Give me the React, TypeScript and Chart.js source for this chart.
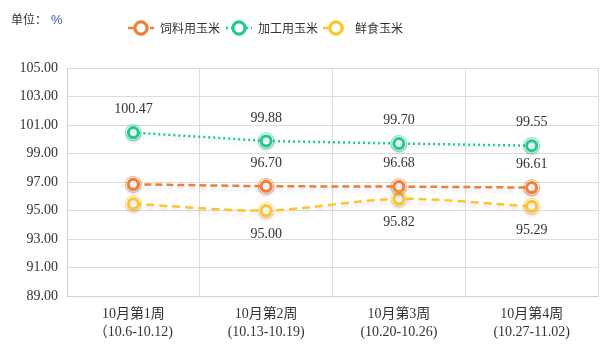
import React, { useEffect, useRef } from "react";
import { Chart, registerables } from "chart.js";

Chart.register(...registerables);

const categories: string[][] = [
  ["10月第1周", "（10.6-10.12)"],
  ["10月第2周", "(10.13-10.19)"],
  ["10月第3周", "(10.20-10.26)"],
  ["10月第4周", "(10.27-11.02)"],
];
const seriesNames = ["饲料用玉米", "加工用玉米", "鲜食玉米"];
const feedCorn = [96.84, 96.7, 96.68, 96.61];
const processingCorn = [100.47, 99.88, 99.7, 99.55];
const freshCorn = [95.47, 95.0, 95.82, 95.29];
const yMin = 89;
const yMax = 105;
const yStep = 2;
const unitLabel = "单位：";
const unitSymbol = "%";

const COLORS = ["#EE7F35", "#1FCB8C", "#FCC52C"];
const DASHES = [[7, 4], [2, 3], [8, 5]];
// which points show labels, and where (above / below)
const labelShow = [
  [false, true, true, true],
  [true, true, true, true],
  [false, true, true, true],
];
const labelAbove = [true, true, false];

const SERIF = "'Liberation Serif', 'Times New Roman', 'Noto Sans CJK SC', serif";
const SANS = "'Noto Sans CJK SC', 'Microsoft YaHei', sans-serif";

const overlayPlugin = {
  id: "overlay",
  beforeDatasetDraw(chart: any) {
    const ctx = chart.ctx;
    ctx.save();
    ctx.shadowColor = "rgba(60,80,160,0.18)";
    ctx.shadowBlur = 4;
    ctx.shadowOffsetY = 3;
  },
  afterDatasetDraw(chart: any) {
    chart.ctx.restore();
  },
  afterDatasetsDraw(chart: any) {
    const ctx = chart.ctx;
    ctx.save();
    chart.data.datasets.forEach((ds: any, i: number) => {
      const meta = chart.getDatasetMeta(i);
      meta.data.forEach((pt: any, j: number) => {
        // halo ring
        ctx.beginPath();
        ctx.arc(pt.x, pt.y, 8, 0, Math.PI * 2);
        ctx.strokeStyle = COLORS[i];
        ctx.globalAlpha = 0.55;
        ctx.lineWidth = 1.2;
        ctx.stroke();
        ctx.globalAlpha = 1;
        if (labelShow[i][j]) {
          ctx.font = "14px " + SERIF;
          ctx.fillStyle = "#333";
          ctx.textAlign = "center";
          ctx.textBaseline = "middle";
          const v = (ds.data[j] as number).toFixed(2);
          const dy = labelAbove[i] ? -23 : 24;
          ctx.fillText(v, pt.x, pt.y + dy);
        }
      });
    });
    ctx.restore();

    // legend + unit
    ctx.save();
    ctx.textBaseline = "middle";
    ctx.textAlign = "left";
    ctx.font = "12px " + SANS;
    ctx.fillStyle = "#333";
    ctx.fillText(unitLabel, 11, 19);
    const uw = ctx.measureText(unitLabel).width;
    ctx.fillStyle = "#3a5a9a";
    ctx.font = "13px 'Liberation Sans', Arial, sans-serif";
    ctx.fillText(unitSymbol, 11 + uw + 4, 20);

    const starts = [128, 226, 323];
    const ly = 28;
    seriesNames.forEach((name, i) => {
      const x0 = starts[i];
      ctx.strokeStyle = COLORS[i];
      ctx.lineWidth = 2.5;
      ctx.setLineDash(DASHES[i]);
      ctx.beginPath();
      ctx.moveTo(x0, ly);
      ctx.lineTo(x0 + 26, ly);
      ctx.stroke();
      ctx.setLineDash([]);
      ctx.beginPath();
      ctx.arc(x0 + 13, ly, 6, 0, Math.PI * 2);
      ctx.fillStyle = "#fff";
      ctx.fill();
      ctx.lineWidth = 3;
      ctx.stroke();
      ctx.beginPath();
      ctx.arc(x0 + 13, ly, 7.5, 0, Math.PI * 2);
      ctx.globalAlpha = 0.5;
      ctx.lineWidth = 1;
      ctx.stroke();
      ctx.globalAlpha = 1;
      ctx.fillStyle = "#333";
      ctx.font = "12px " + SANS;
      ctx.fillText(name, x0 + 32, ly);
    });
    ctx.restore();
  },
};

export default function App() {
  const ref = useRef<HTMLCanvasElement | null>(null);
  useEffect(() => {
    if (!ref.current) return;
    const data = [feedCorn, processingCorn, freshCorn];
    const chart = new Chart(ref.current, {
      type: "line",
      data: {
        labels: categories as any,
        datasets: data.map((d, i) => ({
          label: seriesNames[i],
          data: d,
          borderColor: COLORS[i],
          borderWidth: 2.5,
          borderDash: DASHES[i],
          tension: i === 2 ? 0.3 : 0,
          pointRadius: 5,
          pointBorderWidth: 3,
          pointBackgroundColor: "#fff",
          pointBorderColor: COLORS[i],
          fill: false,
        })),
      },
      options: {
        responsive: false,
        animation: false,
        layout: { padding: { top: 68, right: 7, left: 0, bottom: 0 } },
        plugins: { legend: { display: false }, tooltip: { enabled: false } },
        scales: {
          x: {
            offset: true,
            grid: { offset: true, color: "#dcdcdc", drawTicks: false },
            border: { color: "#d0d0d0" },
            ticks: {
              color: "#333",
              padding: 9,
              maxRotation: 0,
              autoSkip: false,
              font: { family: SERIF, size: 14, lineHeight: 1.3 },
            },
            afterFit(scale: any) {
              scale.height = 56;
            },
          },
          y: {
            min: yMin,
            max: yMax,
            grid: { color: "#dcdcdc", drawTicks: false },
            border: { color: "#d0d0d0" },
            ticks: {
              stepSize: yStep,
              color: "#333",
              padding: 9,
              font: { family: SERIF, size: 14 },
              callback: (v: any) => Number(v).toFixed(2),
            },
            afterFit(scale: any) {
              scale.width = 67;
            },
          },
        },
      },
      plugins: [overlayPlugin],
    });
    return () => chart.destroy();
  }, []);
  return (
    <div style={{ position: "fixed", left: 0, top: 0, width: 606, height: 352, background: "#fff" }}>
      <canvas ref={ref} width={606} height={352} style={{ width: 606, height: 352 }} />
    </div>
  );
}
